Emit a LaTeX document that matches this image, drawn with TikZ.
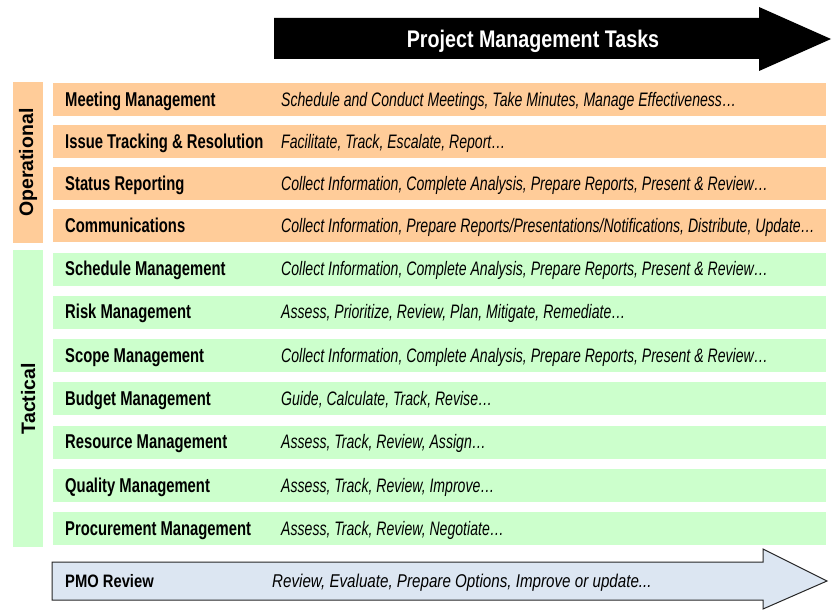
\documentclass[tikz,border=0pt]{standalone}
\usepackage{fontspec}
\setmainfont{Liberation Sans}[FakeStretch=0.82]
\newfontfamily\narrowfont{Liberation Sans}[FakeStretch=0.74]
\newfontfamily\descfont{Liberation Sans}[FakeStretch=0.722]
\newfontfamily\plainfont{Liberation Sans}
\definecolor{opfill}{HTML}{FFCC99}
\definecolor{tafill}{HTML}{CCFFCC}
\definecolor{pmofill}{HTML}{DCE6F2}
\begin{document}
\begin{tikzpicture}[x=1pt,y=-1pt,
  rowbox/.style={minimum width=773pt,minimum height=33pt,inner sep=0pt,anchor=west,draw=none},
  opbox/.style={rowbox,fill=opfill},
  tabox/.style={rowbox,fill=tafill},
  lbl/.style={anchor=base west,inner sep=0pt,font=\narrowfont\fontsize{20}{22}\selectfont\bfseries},
  desc/.style={anchor=base west,inner sep=0pt,font=\descfont\fontsize{19.5}{22}\selectfont\itshape},
  sidebox/.style={minimum width=30pt,inner sep=0pt,anchor=north west,draw=none},
  sidetxt/.style={rotate=90,inner sep=0pt,font=\plainfont\fontsize{19.5}{22}\selectfont\bfseries}]
\useasboundingbox (0,0) rectangle (835,610);
% top arrow
\fill[black] (274,18) -- (759,18) -- (759,7) -- (831,39) -- (759,71) -- (759,59) -- (274,59) -- cycle;
\node[text=white,inner sep=0pt,anchor=base,font=\fontsize{24}{26}\selectfont\bfseries] (title) at (533,47.5) {Project Management Tasks};
% side boxes
\node[sidebox,fill=opfill,minimum height=161pt] (opside) at (13,82) {};
\node[sidetxt] (optxt) at (opside.center) {Operational};
\node[sidebox,fill=tafill,minimum height=297pt] (taside) at (13,250) {};
\node[sidetxt] (tatxt) at (taside.center) {Tactical};
% operational rows
\foreach \y/\n/\a/\b in {
  99.5/r1/Meeting Management/{Schedule and Conduct Meetings, Take Minutes, Manage Effectiveness\ldots},
  141.5/r2/Issue Tracking \& Resolution/{Facilitate, Track, Escalate, Report\ldots},
  183.5/r3/Status Reporting/{Collect Information, Complete Analysis, Prepare Reports, Present \& Review\ldots},
  225.5/r4/Communications/{Collect Information, Prepare Reports/Presentations/Notifications, Distribute, Update\ldots}}{
  \node[opbox] (\n) at (53,\y) {};
  \node[lbl] (\n l) at (65,\y+6.5) {\a};
  \node[desc] (\n d) at (281,\y+6.5) {\b};
}
% tactical rows
\foreach \y/\n/\a/\b in {
  269/t1/Schedule Management/{Collect Information, Complete Analysis, Prepare Reports, Present \& Review\ldots},
  312.3/t2/Risk Management/{Assess, Prioritize, Review, Plan, Mitigate, Remediate\ldots},
  355.6/t3/Scope Management/{Collect Information, Complete Analysis, Prepare Reports, Present \& Review\ldots},
  398.9/t4/Budget Management/{Guide, Calculate, Track, Revise\ldots},
  442.2/t5/Resource Management/{Assess, Track, Review, Assign\ldots},
  485.5/t6/Quality Management/{Assess, Track, Review, Improve\ldots},
  528.8/t7/Procurement Management/{Assess, Track, Review, Negotiate\ldots}}{
  \node[tabox] (\n) at (53,\y) {};
  \node[lbl] (\n l) at (65,\y+6.5) {\a};
  \node[desc] (\n d) at (281,\y+6.5) {\b};
}
% PMO arrow
\draw[fill=pmofill,draw=black!85,line width=1pt] (52,562) -- (763,562) -- (763,549) -- (827,581) -- (763,609) -- (763,600) -- (52,600) -- cycle;
\node[anchor=base west,inner sep=0pt,font=\fontsize{18}{20}\selectfont\bfseries] (pmo) at (65,587) {PMO Review};
\node[anchor=base west,inner sep=0pt,font=\fontsize{18.5}{20}\selectfont\itshape] (pmod) at (272,587) {Review, Evaluate, Prepare Options, Improve or update...};
\end{tikzpicture}
\end{document}
